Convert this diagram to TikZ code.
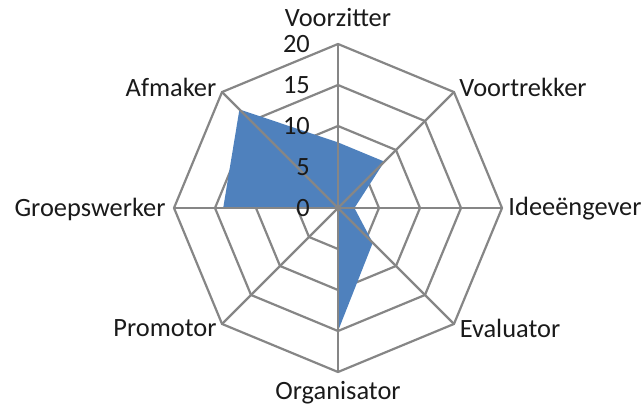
\documentclass[tikz,border=0pt]{standalone}
\usepackage{fontspec}
\setmainfont{Carlito}
\usetikzlibrary{calc}
\definecolor{gridgray}{HTML}{868686}
\definecolor{serieblue}{HTML}{4F81BD}
\definecolor{labeltext}{HTML}{1A1A1A}
\begin{document}
\begin{tikzpicture}[x=1bp,y=1bp,
  font=\fontsize{26.4bp}{31bp}\selectfont,
  gridline/.style={draw=gridgray, line width=2.2bp, line join=miter},
  lbl/.style={inner sep=0pt, text=labeltext},
  tick/.style={inner sep=0pt, anchor=east, text=labeltext}]
\useasboundingbox (0,0) rectangle (644,412);
\coordinate (O) at (338,204);
% rings (behind the series)
\foreach \r in {41,82,123,164}{
  \draw[gridline] ($(O)+(90:\r)$) -- ($(O)+(45:\r)$) -- ($(O)+(0:\r)$) -- ($(O)+(-45:\r)$)
    -- ($(O)+(-90:\r)$) -- ($(O)+(-135:\r)$) -- ($(O)+(180:\r)$) -- ($(O)+(135:\r)$) -- cycle;
}
% series (unit 8.2bp per point)
\fill[serieblue] ($(O)+(90:65.6)$) -- ($(O)+(45:65.6)$) -- ($(O)+(0:16.4)$) -- ($(O)+(-45:49.2)$)
  -- ($(O)+(-90:123)$) -- (O) -- ($(O)+(180:114.8)$) -- ($(O)+(135:139.4)$) -- cycle;
% spokes (above the series)
\foreach \a in {90,45,0,-45,-90,-135,180,135}{
  \draw[gridline] (O) -- ($(O)+(\a:164)$);
}
% value labels
\node[tick] (t0) at (310,204) {0};
\node[tick] (t5) at (310,245) {5};
\node[tick] (t10) at (310,286) {10};
\node[tick] (t15) at (310,327) {15};
\node[tick] (t20) at (310,368) {20};
% category labels
\node[lbl] (voorzitter) at (338,394) {Voorzitter};
\node[lbl] (voortrekker) at (523,325) {Voortrekker};
\node[lbl] (ideeengever) at (575,203) {Ideeëngever};
\node[lbl] (evaluator) at (510,84) {Evaluator};
\node[lbl] (organisator) at (338,19) {Organisator};
\node[lbl] (promotor) at (165,84) {Promotor};
\node[lbl] (groepswerker) at (90,203) {Groepswerker};
\node[lbl] (afmaker) at (171,325) {Afmaker};
\end{tikzpicture}
\end{document}
